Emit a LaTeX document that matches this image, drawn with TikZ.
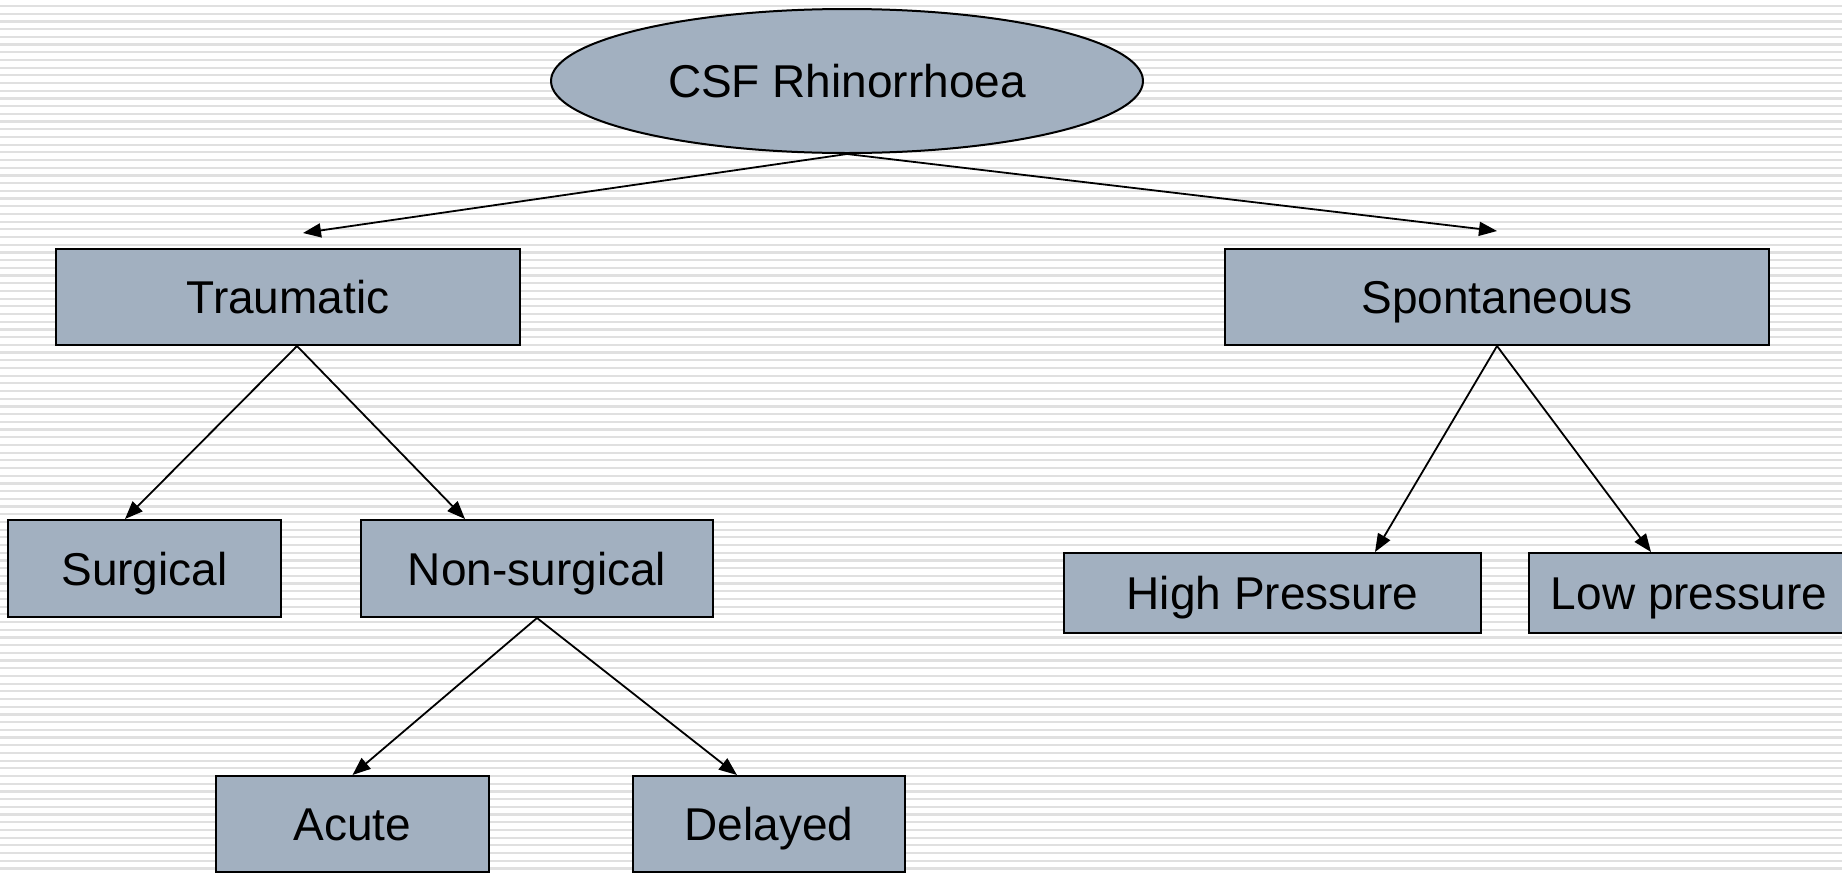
\documentclass[tikz,border=0pt]{standalone}
\usepackage{fontspec}
\setmainfont{Liberation Sans}
\usetikzlibrary{shapes.geometric,arrows.meta,calc}
\definecolor{boxfill}{RGB}{162,176,192}
\definecolor{stripe}{RGB}{224,224,224}
\begin{document}
\begin{tikzpicture}[x=0.5pt,y=-0.5pt,
  box/.style={draw=black, line width=1pt, fill=boxfill, inner sep=0pt,
    font=\fontsize{23}{27}\selectfont, text height=16.5pt, text depth=0pt},
  arr/.style={-{Triangle[length=9pt,width=7pt]}, line width=0.9pt}]
\useasboundingbox (0,0) rectangle (1842,873);
\clip (0,0) rectangle (1842,873);
\fill[white] (0,0) rectangle (1842,873);
\foreach \i in {0,...,113} {\draw[stripe, line width=1.1pt] (0,{6+7.7*\i}) -- (1842,{6+7.7*\i});}

\node[box, ellipse, minimum width=296pt, minimum height=72pt] (root) at (847,81) {CSF Rhinorrhoea};
\node[box, minimum width=232pt, minimum height=48pt] (trau) at (288,297) {Traumatic};
\node[box, minimum width=272pt, minimum height=48pt] (spon) at (1497,297) {Spontaneous};
\node[box, minimum width=136.5pt, minimum height=48.5pt] (surg) at (144.5,568.5) {Surgical};
\node[box, minimum width=176pt, minimum height=48.5pt] (nons) at (537,568.5) {Non-surgical};
\node[box, minimum width=136.5pt, minimum height=48pt] (acute) at (352.5,824) {Acute};
\node[box, minimum width=136pt, minimum height=48pt] (del) at (769,824) {Delayed};
\node[box, minimum width=208.5pt, minimum height=40pt] (high) at (1272.5,593) {High Pressure};
\node[box, minimum width=160pt, minimum height=40pt] (low) at (1689,593) {Low pressure};

\draw[arr] (root.south) -- ($(trau.north)+(15,-15)$);
\draw[arr] (root.south) -- ($(spon.north)+(0,-17)$);
\draw[arr] ($(trau.south)+(9,0)$) -- ($(surg.north)+(-19.5,0)$);
\draw[arr] ($(trau.south)+(9,0)$) -- ($(nons.north)+(-72,0)$);
\draw[arr] (nons.south) -- (acute.north);
\draw[arr] (nons.south) -- ($(del.north)+(-32,0)$);
\draw[arr] (spon.south) -- ($(high.north)+(102.5,0)$);
\draw[arr] (spon.south) -- ($(low.north)+(-38,0)$);
\end{tikzpicture}
\end{document}
